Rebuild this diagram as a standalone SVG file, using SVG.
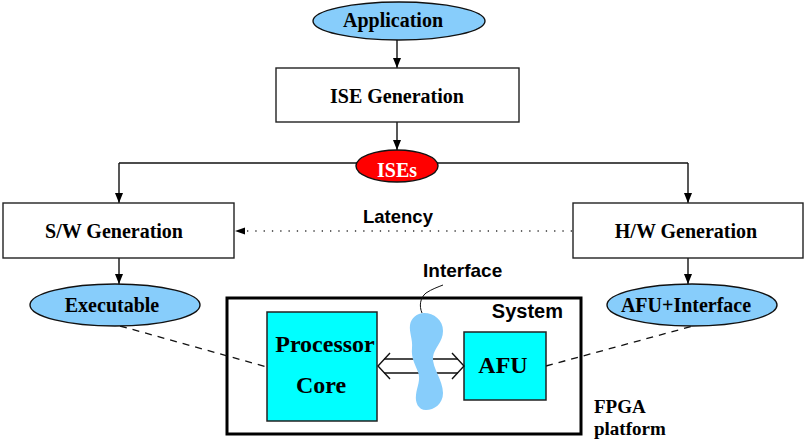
<svg xmlns="http://www.w3.org/2000/svg" width="804" height="441" viewBox="0 0 804 441">
  <style>
    .box { fill: #ffffff; stroke: #222222; stroke-width: 1.4; }
    .oval { fill: #87cdfb; stroke: #111111; stroke-width: 1.4; }
    .unit { fill: #00ffff; stroke: #222222; stroke-width: 1.5; }
    .serif { font-family: 'Liberation Serif', 'Times New Roman', serif; font-weight: bold; fill: #000000; }
    .sans { font-family: 'Liberation Sans', Arial, sans-serif; font-weight: bold; fill: #000000; }
    .flow { fill: none; stroke: #111111; stroke-width: 1.4; }
    .dash { fill: none; stroke: #111111; stroke-width: 1.3; stroke-dasharray: 7 6; }
    .dots { fill: none; stroke: #333333; stroke-width: 1.3; stroke-dasharray: 1.3 7; }
  </style>
  <defs>
    <marker id="head" viewBox="0 0 10 8" refX="10" refY="4" markerWidth="10" markerHeight="8" markerUnits="userSpaceOnUse" orient="auto">
      <path d="M0,0 L10,4 L0,8 Z" fill="#000000"/>
    </marker>
  </defs>

  <g id="system">
    <rect x="227" y="298" width="354" height="136" fill="none" stroke="#000000" stroke-width="3"/>
    <text class="sans" x="563" y="318" font-size="20" text-anchor="end">System</text>
  </g>

  <!-- connectors -->
  <g id="connectors">
    <line class="flow" x1="397" y1="40" x2="397" y2="68" marker-end="url(#head)"/>
    <line class="flow" x1="397" y1="122" x2="397" y2="150" marker-end="url(#head)"/>
    <path class="flow" d="M119,163 H688"/>
    <line class="flow" x1="119" y1="163" x2="119" y2="203" marker-end="url(#head)"/>
    <line class="flow" x1="688" y1="163" x2="688" y2="203" marker-end="url(#head)"/>
    <line class="flow" x1="119" y1="258" x2="119" y2="284" marker-end="url(#head)"/>
    <line class="flow" x1="688" y1="258" x2="688" y2="284" marker-end="url(#head)"/>
    <line class="dots" x1="572" y1="231" x2="246" y2="231"/>
    <path d="M235,231 L245,227.5 L245,234.5 Z" fill="#000000"/>
    <line class="dash" x1="120" y1="326" x2="267" y2="367"/>
    <line class="dash" x1="546" y1="366" x2="693" y2="326"/>
  </g>

  <g id="application">
    <ellipse class="oval" cx="399" cy="21" rx="86" ry="19"/>
    <text class="serif" x="393" y="27" font-size="20" text-anchor="middle">Application</text>
  </g>

  <g id="ise-generation">
    <rect class="box" x="276" y="68" width="243" height="54"/>
    <text class="serif" x="397" y="103" font-size="20" text-anchor="middle">ISE Generation</text>
  </g>

  <g id="ises">
    <ellipse cx="397" cy="166" rx="41" ry="16" fill="#ff0000" stroke="#111111" stroke-width="1.4"/>
    <text class="serif" x="397" y="177" font-size="20" text-anchor="middle" style="fill:#ffffff">ISEs</text>
  </g>

  <g id="sw-generation">
    <rect class="box" x="3" y="203" width="231" height="55"/>
    <text class="serif" x="114" y="238" font-size="20" text-anchor="middle">S/W Generation</text>
  </g>

  <g id="hw-generation">
    <rect class="box" x="573" y="203" width="230" height="55"/>
    <text class="serif" x="686" y="238" font-size="20" text-anchor="middle">H/W Generation</text>
  </g>

  <g id="latency">
    <text class="sans" x="398" y="223" font-size="18.5" text-anchor="middle">Latency</text>
  </g>

  <g id="executable">
    <ellipse class="oval" cx="115" cy="305" rx="85" ry="21"/>
    <text class="serif" x="112" y="312" font-size="20" text-anchor="middle">Executable</text>
  </g>

  <g id="afu-interface">
    <ellipse class="oval" cx="692" cy="305" rx="85" ry="21"/>
    <text class="serif" x="686" y="312" font-size="20" text-anchor="middle">AFU+Interface</text>
  </g>

  <g id="processor-core">
    <rect class="unit" x="267" y="312" width="110" height="109"/>
    <text class="serif" x="325" y="352" font-size="24" text-anchor="middle">Processor</text>
    <text class="serif" x="321" y="393" font-size="24" text-anchor="middle">Core</text>
  </g>

  <g id="afu">
    <rect class="unit" x="464" y="332" width="82" height="68"/>
    <text class="serif" x="503" y="373" font-size="24" text-anchor="middle">AFU</text>
  </g>

  <!-- two-way hollow link between core and AFU -->
  <g id="link" fill="none" stroke="#111111" stroke-width="1.4">
    <path d="M390,353 L378,366 L390,379"/>
    <path d="M452,353 L464,366 L452,379"/>
    <path d="M384,359 H458 M384,373 H458"/>
  </g>

  <g id="interface">
    <path d="M424,313 C434,313 443,320 443,331 C443,342 434,348 433,357 C432,368 443,380 443,393 C443,404 434,410 426,410 C418,410 415,402 416,395 C417,386 421,380 418,372 C415,364 411,358 412,348 C413,340 409,332 410,325 C411,318 417,313 424,313 Z" fill="#87cdfb"/>
    <path d="M422,313 C419,306 420,298 426,293 C432,289 438,287 443,285" fill="none" stroke="#111111" stroke-width="1"/>
    <text class="sans" x="423" y="277" font-size="19">Interface</text>
  </g>

  <g id="fpga-platform">
    <text class="serif" x="594" y="413" font-size="19">FPGA</text>
    <text class="serif" x="594" y="435" font-size="19">platform</text>
  </g>
</svg>
